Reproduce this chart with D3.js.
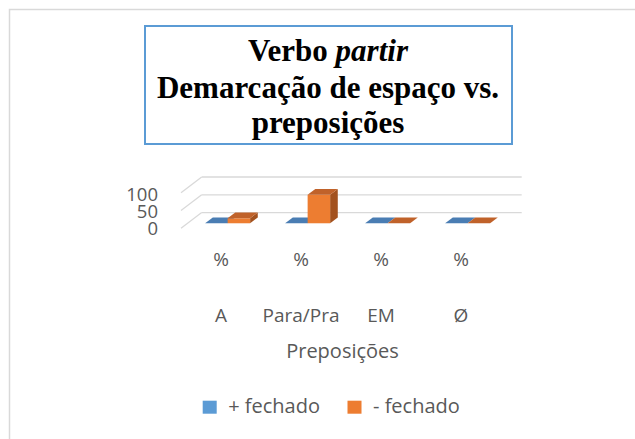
<!DOCTYPE html>
<html>
<head>
<meta charset="utf-8">
<script src="https://cdn.jsdelivr.net/npm/d3@7"></script>
<style>
  body { margin: 0; background: #fff; }
  text { font-family: "Open Sans", sans-serif; }
</style>
</head>
<body>
<svg id="chart"></svg>
<script>
// Data
const categories = ["A", "Para/Pra", "EM", "Ø"];
const unitLabels = ["%", "%", "%", "%"];
const series = ["+ fechado", "- fechado"];
const maisFechado = [0, 0, 0, 0];
const menosFechado = [14, 80, 0, 0];
const yTicks = [0, 50, 100];

const width = 635, height = 439;

// colours: front / top / side for each series
const colors = {
  "+ fechado": {front: "#5B9BD5", top: "#4A7DB3", side: "#3E6A98"},
  "- fechado": {front: "#ED7D31", top: "#C0622A", side: "#A3521F"}
};

const svg = d3.select("#chart")
  .attr("width", width)
  .attr("height", height);

// outer chart border (runs off the right and bottom edges)
svg.append("rect")
  .attr("x", 9.5).attr("y", 9.5)
  .attr("width", 700).attr("height", 500)
  .attr("fill", "none")
  .attr("stroke", "#D9D9D9")
  .attr("stroke-width", 1.5);

// Title box
svg.append("rect")
  .attr("x", 145).attr("y", 26)
  .attr("width", 367).attr("height", 118)
  .attr("fill", "#fff")
  .attr("stroke", "#5B9BD5")
  .attr("stroke-width", 2);

const title = svg.append("text")
  .attr("text-anchor", "middle")
  .style("font-family", "'Liberation Serif', 'Times New Roman', serif")
  .style("font-weight", "bold")
  .style("font-size", "31px")
  .attr("fill", "#000");
const l1 = title.append("tspan").attr("x", 328).attr("y", 61);
l1.append("tspan").text("Verbo ");
l1.append("tspan").style("font-style", "italic").text("partir");
title.append("tspan").attr("x", 328).attr("y", 97.5).text("Demarcação de espaço vs.");
title.append("tspan").attr("x", 328).attr("y", 133).text("preposições");

// 3D projection: front plane + depth offset
const DX = 20.7, DY = 15.7;

const x0 = d3.scaleBand()
  .domain(categories)
  .range([181, 501]);

const x1 = d3.scaleBand()
  .domain(series)
  .range([0, x0.bandwidth()])
  .paddingOuter(0.778);

const yScale = d3.scaleLinear()
  .domain([0, 100])
  .range([228.3, 192.7]);

const grid = svg.append("g")
  .attr("stroke", "#D9D9D9")
  .attr("stroke-width", 1.3)
  .attr("fill", "none");

yTicks.forEach(v => {
  const y = yScale(v);
  // side wall
  grid.append("line")
    .attr("x1", x0.range()[0]).attr("y1", y)
    .attr("x2", x0.range()[0] + DX).attr("y2", y - DY);
  // back wall
  grid.append("line")
    .attr("x1", x0.range()[0] + DX).attr("y1", y - DY)
    .attr("x2", x0.range()[1] + DX).attr("y2", y - DY);
});

// y tick labels
svg.append("g").selectAll("text")
  .data(yTicks)
  .join("text")
  .attr("x", 158)
  .attr("y", d => yScale(d) + 6.5 + (d / 100) * 2)
  .attr("text-anchor", "end")
  .attr("fill", "#595959")
  .style("font-size", "18.5px")
  .text(d => d);

// bars
const zFront = 0.32, zBack = 0.69;
const P = (x, v, z) => [x + z * DX, yScale(v) - z * DY];
const pts = arr => arr.map(p => p.join(",")).join(" ");

const barData = [];
categories.forEach((c, i) => {
  barData.push({cat: c, s: series[0], v: maisFechado[i]});
  barData.push({cat: c, s: series[1], v: menosFechado[i]});
});

const bars = svg.append("g");
barData.forEach(d => {
  const xl = x0(d.cat) + x1(d.s);
  const xr = xl + x1.bandwidth();
  const col = colors[d.s];
  const g = bars.append("g");
  // right side face
  g.append("polygon")
    .attr("points", pts([P(xr, 0, zFront), P(xr, 0, zBack), P(xr, d.v, zBack), P(xr, d.v, zFront)]))
    .attr("fill", col.side);
  // front face
  if (d.v > 0) {
    g.append("polygon")
      .attr("points", pts([P(xl, 0, zFront), P(xr, 0, zFront), P(xr, d.v, zFront), P(xl, d.v, zFront)]))
      .attr("fill", col.front);
  }
  // top face
  g.append("polygon")
    .attr("points", pts([P(xl, d.v, zFront), P(xr, d.v, zFront), P(xr, d.v, zBack), P(xl, d.v, zBack)]))
    .attr("fill", col.top);
});

// category labels (two rows)
const catG = svg.append("g")
  .attr("fill", "#595959")
  .style("font-size", "19px")
  .attr("text-anchor", "middle");
categories.forEach((c, i) => {
  const cx = x0(c) + x0.bandwidth() / 2;
  catG.append("text").attr("x", cx).attr("y", 266).text(unitLabels[i]);
  catG.append("text").attr("x", cx).attr("y", 321.5).text(c);
});

// axis title
svg.append("text")
  .attr("x", 342.5).attr("y", 358.3)
  .attr("text-anchor", "middle")
  .attr("fill", "#595959")
  .style("font-size", "20px")
  .text("Preposições");

// legend
const legend = svg.append("g");
const legX = [202.7, 347.5];
series.forEach((s, i) => {
  legend.append("rect")
    .attr("x", legX[i]).attr("y", 400.7)
    .attr("width", 14).attr("height", 13)
    .attr("fill", colors[s].front);
  legend.append("text")
    .attr("x", legX[i] + 25.5).attr("y", 412.7)
    .attr("fill", "#595959")
    .style("font-size", "20px")
    .text(s);
});
</script>
</body>
</html>
